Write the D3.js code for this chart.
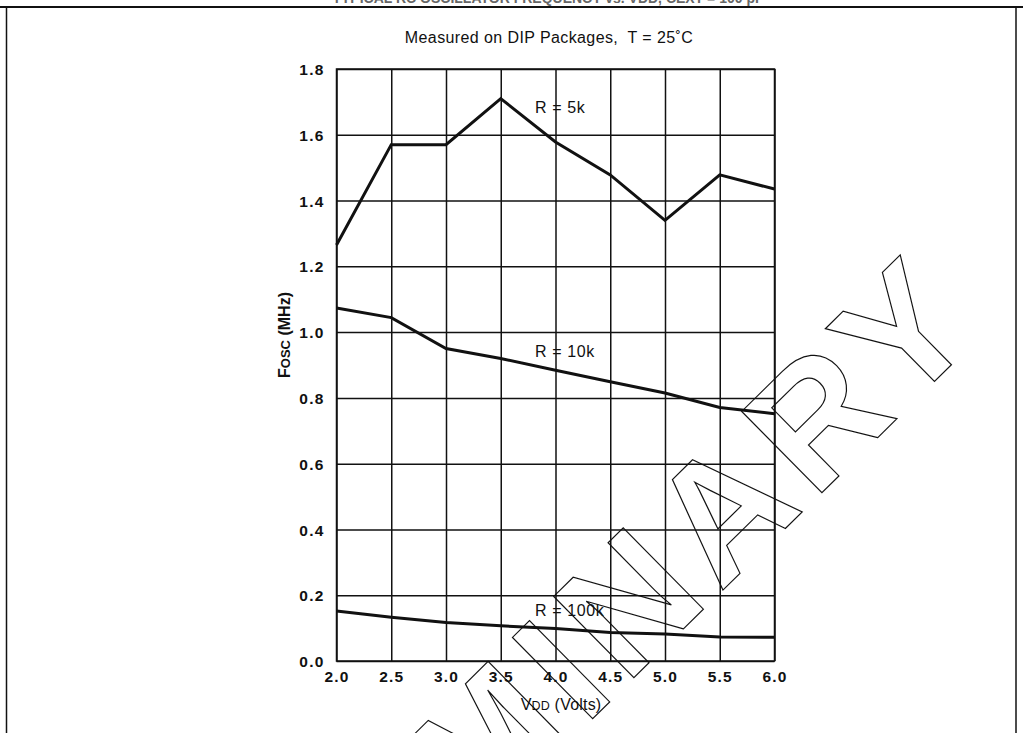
<!DOCTYPE html>
<html>
<head>
<meta charset="utf-8">
<script src="https://cdn.jsdelivr.net/npm/d3@7"></script>
<style>
  html, body { margin: 0; padding: 0; background: #fff; }
  svg { display: block; }
  text { font-family: "Liberation Sans", Arial, sans-serif; fill: #111; }
</style>
</head>
<body>
<div id="chart"></div>
<script>
// ---- data ----
const vdd = [2.0, 2.5, 3.0, 3.5, 4.0, 4.5, 5.0, 5.5, 6.0];
const r5k = [1.265, 1.57, 1.57, 1.71, 1.578, 1.478, 1.34, 1.478, 1.435];
const r10k = [1.073, 1.044, 0.950, 0.920, 0.884, 0.849, 0.815, 0.771, 0.752];
const r100k = [0.152, 0.133, 0.117, 0.107, 0.099, 0.087, 0.082, 0.073, 0.072];
const seriesNames = ["R = 5k", "R = 10k", "R = 100k"];
const labelAt = [[3.95, 1.68], [3.95, 0.94], [3.95, 0.152]];
const xTicks = [2.0, 2.5, 3.0, 3.5, 4.0, 4.5, 5.0, 5.5, 6.0];
const yTicks = [0.0, 0.2, 0.4, 0.6, 0.8, 1.0, 1.2, 1.4, 1.6, 1.8];
const figureTitle = "TYPICAL RC OSCILLATOR FREQUENCY vs. VDD, CEXT = 100 pF";
const subTitle = "Measured on DIP Packages,  T = 25˚C";
const watermark = "PRELIMINARY";

const W = 1023, H = 733;
const svg = d3.select("#chart").append("svg").attr("width", W).attr("height", H);

// page frame
const frame = svg.append("g").attr("stroke", "#111").attr("fill", "none");
frame.append("line").attr("x1", 0).attr("x2", W).attr("y1", 7).attr("y2", 7).attr("stroke-width", 2);
frame.append("line").attr("x1", 6.5).attr("x2", 6.5).attr("y1", 7).attr("y2", H).attr("stroke-width", 1.5);
frame.append("line").attr("x1", 1016).attr("x2", 1016).attr("y1", 7).attr("y2", H).attr("stroke-width", 1.5);

// figure title, cut off by the top of the page as in the reference
svg.append("text").attr("x", 548).attr("y", 2.5).attr("text-anchor", "middle")
  .attr("font-size", 14).attr("font-weight", "bold").style("fill", "#666")
  .text(figureTitle);

// subtitle
svg.append("text").attr("x", 549).attr("y", 43).attr("text-anchor", "middle")
  .attr("font-size", 16).attr("letter-spacing", 0.4).style("white-space", "pre")
  .text(subTitle);

const x = d3.scaleLinear().domain([2, 6]).range([336.5, 774.5]);
const y = d3.scaleLinear().domain([0, 1.8]).range([661, 69]);
const pw = x.range()[1] - x.range()[0];
const ph = y.range()[0] - y.range()[1];

// grid via axes
const gy = svg.append("g").attr("transform", `translate(${x.range()[0]},0)`)
  .call(d3.axisLeft(y).tickValues(yTicks).tickSize(-pw).tickPadding(12).tickFormat(d3.format(".1f")));
const gx = svg.append("g").attr("transform", `translate(0,${y.range()[0]})`)
  .call(d3.axisBottom(x).tickValues(xTicks).tickSize(-ph).tickPadding(10).tickFormat(d3.format(".1f")));
[gx, gy].forEach(g => {
  g.select(".domain").remove();
  g.selectAll(".tick line").attr("stroke", "#111").attr("stroke-width", 1.5);
  g.selectAll(".tick text").attr("font-family", "Liberation Sans, Arial, sans-serif")
    .attr("font-size", 15.5).attr("font-weight", "bold").attr("letter-spacing", 1.2).style("fill", "#111");
});
gy.selectAll(".tick text").attr("dy", "0.36em");
svg.append("rect").attr("x", x.range()[0]).attr("y", y.range()[1]).attr("width", pw).attr("height", ph)
  .attr("fill", "none").attr("stroke", "#111").attr("stroke-width", 1.5);

// curves
const line = d3.line().x((d, i) => x(vdd[i])).y(d => y(d));
[r5k, r10k, r100k].forEach(s => {
  svg.append("path").datum(s).attr("d", line).attr("fill", "none")
    .attr("stroke", "#111").attr("stroke-width", 3).attr("stroke-linejoin", "miter");
});
seriesNames.forEach((n, i) => {
  svg.append("text").attr("x", x(labelAt[i][0]) - 15).attr("y", y(labelAt[i][1]) + 5)
    .attr("font-size", 16).attr("letter-spacing", 0.6).text(n);
});

// axis titles
const yt = svg.append("text").attr("transform", "translate(290,335) rotate(-90)")
  .attr("text-anchor", "middle").attr("font-size", 16).attr("font-weight", "bold");
yt.append("tspan").text("F");
yt.append("tspan").attr("font-size", 13).text("OSC");
yt.append("tspan").text(" (MHz)");

const xt = svg.append("text").attr("x", 561).attr("y", 710).attr("text-anchor", "middle")
  .attr("font-size", 16).attr("letter-spacing", 0.2);
xt.append("tspan").text("V");
xt.append("tspan").attr("font-size", 12.5).text("DD");
xt.append("tspan").text(" (Volts)");

// outlined watermark
const wm = svg.append("text").attr("transform", "translate(720,593) rotate(-44.6)")
  .attr("font-size", 166).attr("font-weight", "bold").attr("letter-spacing", 12)
  .style("fill", "none").attr("stroke", "#111").attr("stroke-width", 1.2)
  .attr("x", 0).attr("y", 0).text(watermark);
const aStart = wm.node().getStartPositionOfChar(8).x;
wm.attr("x", -aStart);
</script>
</body>
</html>
